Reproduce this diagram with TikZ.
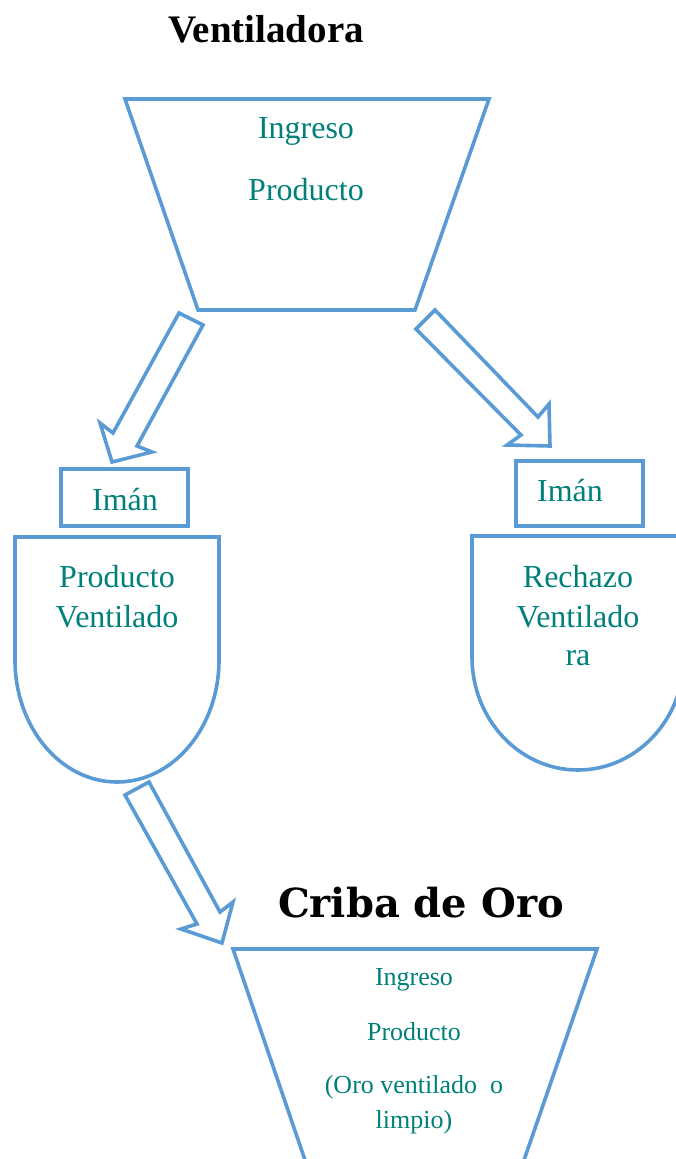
\documentclass[tikz,border=0pt]{standalone}
\usepackage{fontspec}
\setmainfont{Liberation Serif}
\newfontfamily\cribafont{DejaVu Serif}
\definecolor{lblue}{RGB}{91,155,213}
\definecolor{tealtxt}{RGB}{0,128,122}
\begin{document}
\begin{tikzpicture}[x=1pt,y=-1pt,
  shapeline/.style={draw=lblue,line width=3.6pt,line join=miter},
  lbl/.style={text=tealtxt,font=\fontsize{32}{38}\selectfont,anchor=base,inner sep=0pt},
  slbl/.style={text=tealtxt,font=\fontsize{26}{30}\selectfont,anchor=base,inner sep=0pt},
  ttl/.style={text=black,anchor=base,inner sep=0pt}]
\useasboundingbox (0,0) rectangle (676,1159);
\clip (0,0) rectangle (676,1159);
% titles
\node[ttl,font=\fontsize{39}{44}\selectfont\bfseries] (t1) at (266,42) {Ventiladora};
\node[ttl,font=\cribafont\fontsize{40}{46}\selectfont\bfseries] (t2) at (421,917) {Criba de Oro};
% top hopper
\coordinate (h1a) at (125,99); \coordinate (h1b) at (489,99);
\coordinate (h1c) at (415,310); \coordinate (h1d) at (198,310);
\draw[shapeline] (h1a) -- (h1b) -- (h1c) -- (h1d) -- cycle;
\node[lbl] (ing1) at (306,138) {Ingreso};
\node[lbl] (pro1) at (306,200) {Producto};
% left magnet + shield
\draw[shapeline] (61,469) rectangle (188,526);
\node[lbl] (im1) at (125,510) {Imán};
\draw[shapeline] (15,537) -- (219,537) -- (219,660) arc[start angle=0,end angle=180,x radius=102,y radius=122] -- cycle;
\node[lbl] (pv1) at (117,587) {Producto};
\node[lbl] (pv2) at (117,627) {Ventilado};
% right magnet + shield
\draw[shapeline] (516,461) rectangle (643,526);
\node[lbl] (im2) at (570,501) {Imán};
\draw[shapeline] (472,536) -- (684,536) -- (684,657) arc[start angle=0,end angle=180,x radius=106,y radius=113] -- cycle;
\node[lbl] (rv1) at (578,587) {Rechazo};
\node[lbl] (rv2) at (578,627) {Ventilado};
\node[lbl] (rv3) at (578,665) {ra};
% block arrows
\draw[shapeline] (179,313) -- (203,325) -- (137,446) -- (152,452) -- (112,462) -- (100,423) -- (113,433) -- cycle;
\draw[shapeline] (435,310) -- (416,329) -- (521,435) -- (507,445) -- (550,446) -- (549,404) -- (538,417) -- cycle;
\draw[shapeline] (125,795) -- (149,782) -- (220,912) -- (233,902) -- (222,943) -- (181,929) -- (197,924) -- cycle;
% bottom hopper
\coordinate (h2a) at (233,949); \coordinate (h2b) at (597,949);
\coordinate (h2c) at (523,1163); \coordinate (h2d) at (306,1163);
\draw[shapeline] (h2a) -- (h2b) -- (h2c) -- (h2d) -- cycle;
\node[slbl] (ing2) at (414,985) {Ingreso};
\node[slbl] (pro2) at (414,1040) {Producto};
\node[slbl] (oro1) at (414,1093) {(Oro ventilado\ \ o};
\node[slbl] (oro2) at (414,1128) {limpio)};
\end{tikzpicture}
\end{document}
